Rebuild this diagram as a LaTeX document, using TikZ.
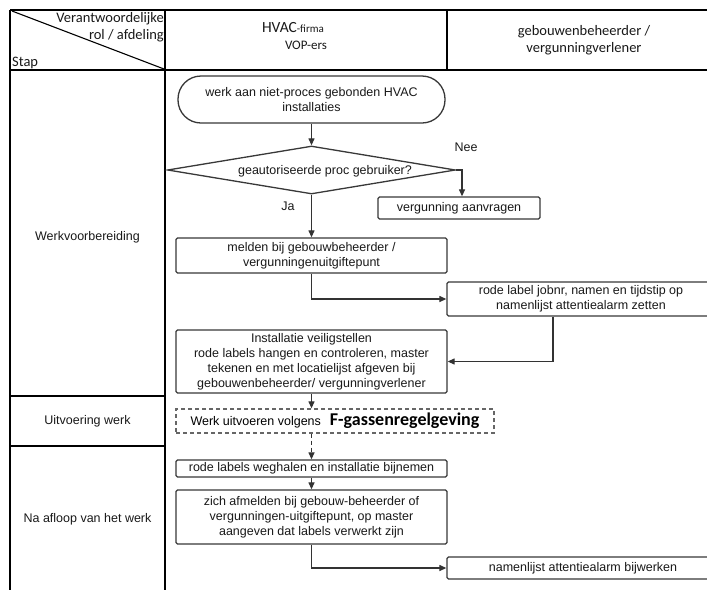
\documentclass[tikz,border=0pt]{standalone}
\usepackage{fontspec}
\setmainfont{Liberation Sans}
\newfontfamily\calfont{Carlito}
\usetikzlibrary{shapes.geometric,arrows.meta}
\begin{document}
\begin{tikzpicture}[x=1pt,y=-1pt,
  tbl/.style={line width=1.8pt,black},
  box/.style={draw=black!78,line width=1.3pt,rounded corners=1.5pt,align=center,inner sep=0pt,font=\fontsize{12.5}{15}\selectfont,text=black!90},
  dbox/.style={draw=black!60,line width=1.3pt,dash pattern=on 4pt off 3pt,inner sep=0pt,align=center},
  arr/.style={line width=1.2pt,black!80,-{Triangle[length=7pt,width=6pt]}},
  lbl/.style={font=\fontsize{12.5}{15}\selectfont,text=black!90,inner sep=0pt,align=center},
  hdr/.style={font=\calfont\fontsize{14.5}{17}\selectfont,inner sep=0pt,align=center,text=black!90},
]
\useasboundingbox[fill=white] (0,0) rectangle (707,590);

% table grid
\draw[tbl] (10,10) -- (707,10);
\draw[tbl] (10,10) -- (10,590);
\draw[tbl] (165,10) -- (165,590);
\draw[tbl] (447,10) -- (447,70);
\draw[line width=2.4pt] (10,70) -- (707,70);
\draw[tbl] (10,396) -- (165,396);
\draw[tbl] (10,446) -- (165,446);
\draw[line width=1.1pt] (12,11) -- (164,69);

% header texts
\node[hdr,anchor=north east,align=right] (vr) at (164,12) {Verantwoordelijke\\rol / afdeling};
\node[hdr,anchor=base west] (stap) at (12,66) {Stap};
\node[hdr] (hvac) at (293,28) {{\fontsize{15.5}{17}\selectfont HVAC}{\fontsize{11}{13}\selectfont -firma}};
\node[hdr,font=\calfont\fontsize{13}{15}\selectfont] (vop) at (306,45) {VOP-ers};
\node[hdr] (geb) at (584,40) {gebouwenbeheerder /\\vergunningverlener};

% step labels
\node[lbl] (wv) at (87.5,237) {Werkvoorbereiding};
\node[lbl] (uw) at (87.5,421) {Uitvoering werk};
\node[lbl] (na) at (87.5,519) {Na afloop van het werk};

% flow nodes
\node[box,rounded corners=23pt,minimum width=267pt,minimum height=47pt] (term) at (311.5,99.5) {werk aan niet-proces gebonden HVAC\\installaties};
\node[draw=black!78,line width=1.3pt,diamond,aspect=6,minimum width=288pt,minimum height=48pt,inner sep=0pt] (dia) at (311.5,170) {};
\node[lbl] (diat) at (325,171) {geautoriseerde proc gebruiker?};
\node[box,minimum width=162pt,minimum height=22pt] (verg) at (459,208) {vergunning aanvragen};
\node[lbl] (nee) at (466,147) {Nee};
\node[lbl] (ja) at (288,206) {Ja};
\node[box,minimum width=271pt,minimum height=35pt] (melden) at (311.5,255.5) {melden bij gebouwbeheerder /\\vergunningenuitgiftepunt};
\node[box,minimum width=268pt,minimum height=34pt] (rode) at (581,299) {rode label jobnr, namen en tijdstip op\\namenlijst attentiealarm zetten};
\node[box,minimum width=271pt,minimum height=63pt] (install) at (311.5,361.5) {Installatie veiligstellen\\rode labels hangen en controleren, master\\tekenen en met locatielijst afgeven bij\\gebouwenbeheerder/ vergunningverlener};
\node[dbox,minimum width=318pt,minimum height=24pt] (dash) at (335,421) {{\fontsize{12.5}{15}\selectfont Werk uitvoeren volgens}\hspace{9pt}{\calfont\bfseries\fontsize{18}{20}\selectfont F-gassenregelgeving}};
\node[box,minimum width=271pt,minimum height=17pt] (rl) at (311.5,468.5) {rode labels weghalen en installatie bijnemen};
\node[box,minimum width=271pt,minimum height=54pt] (zich) at (311.5,517) {zich afmelden bij gebouw-beheerder of\\vergunningen-uitgiftepunt, op master\\aangeven dat labels verwerkt zijn};
\node[box,minimum width=272pt,minimum height=22pt] (nam) at (583,568) {namenlijst attentiealarm bijwerken};

% connectors
\draw[arr] (term.south) -- (dia.north);
\draw[arr] (dia.east) -| ([xshift=3pt]verg.north);
\draw[arr] (dia.south) -- (melden.north);
\draw[arr] (melden.south) |- (rode.west);
\draw[arr] ([xshift=-28pt]rode.south) |- (install.east);
\draw[arr] (install.south) -- (install.south |- dash.north);
\draw[arr,dash pattern=on 4pt off 3pt] (install.south |- dash.south) -- (rl.north);
\draw[arr] (rl.south) -- (zich.north);
\draw[arr] (zich.south) |- (nam.west);
\end{tikzpicture}
\end{document}
